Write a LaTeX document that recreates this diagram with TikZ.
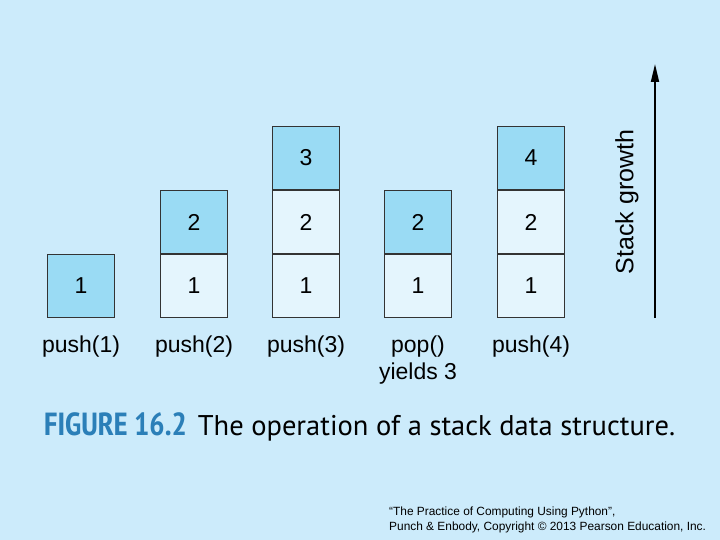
\documentclass[tikz,border=0pt]{standalone}
\usepackage{fontspec}
\setmainfont{Liberation Sans}
\newfontfamily\capfont{PT Sans Narrow}
\newfontfamily\captext{PT Sans}
\usetikzlibrary{arrows.meta}
\definecolor{bg}{HTML}{CCEBFB}
\definecolor{topc}{HTML}{9ADBF4}
\definecolor{lowc}{HTML}{E4F5FD}
\definecolor{capblue}{HTML}{2B7FB8}
\tikzset{
  cell/.style={draw=black!80,line width=1.2pt,minimum width=67pt,minimum height=63pt,inner sep=0pt,font=\fontsize{23}{23}\selectfont},
  topcell/.style={cell,fill=topc},
  lowcell/.style={cell,fill=lowc},
  lab/.style={font=\fontsize{23}{27}\selectfont,align=center,anchor=north,inner sep=0pt}
}
\begin{document}
\begin{tikzpicture}[x=1pt,y=-1pt]
\fill[bg] (0,0) rectangle (720,540);
\useasboundingbox (0,0) rectangle (720,540);
% column 1
\node[topcell] (a1) at (81,286) {1};
% column 2
\node[lowcell] (b1) at (194,286) {1};
\node[topcell] (b2) at (194,222) {2};
% column 3
\node[lowcell] (c1) at (306,286) {1};
\node[lowcell] (c2) at (306,222) {2};
\node[topcell] (c3) at (306,158) {3};
% column 4
\node[lowcell] (d1) at (418,286) {1};
\node[topcell] (d2) at (418,222) {2};
% column 5
\node[lowcell] (e1) at (531,286) {1};
\node[lowcell] (e2) at (531,222) {2};
\node[topcell] (e3) at (531,158) {4};
% labels
\node[lab] (la) at (81,336) {push(1)};
\node[lab] (lb) at (194,336) {push(2)};
\node[lab] (lc) at (306,336) {push(3)};
\node[lab] (ld) at (418,336) {pop()\\yields 3};
\node[lab] (le) at (531,336) {push(4)};
% arrow
\coordinate (g0) at (655,318);
\coordinate (g1) at (655,64);
\draw[line width=1.8pt,-{Triangle[length=18pt,width=8pt]}] (g0) -- (g1);
\node[rotate=90,font=\fontsize{25}{25}\selectfont] (sg) at (627,202) {Stack growth};
% caption
\node[anchor=west,inner sep=0pt] (cap) at (44,427) {{\fontsize{32}{32}\selectfont\capfont\bfseries\color{capblue}FIGURE 16.2}\hspace{11pt}{\fontsize{28.5}{28}\selectfont\captext The operation of a stack data structure.}};
% footer
\node[anchor=north west,align=left,inner sep=0pt,font=\fontsize{11.9}{15}\selectfont] (ft) at (389,507) {``The Practice of Computing Using Python'',\\Punch \& Enbody, Copyright \textcopyright{} 2013 Pearson Education, Inc.};
\end{tikzpicture}
\end{document}
